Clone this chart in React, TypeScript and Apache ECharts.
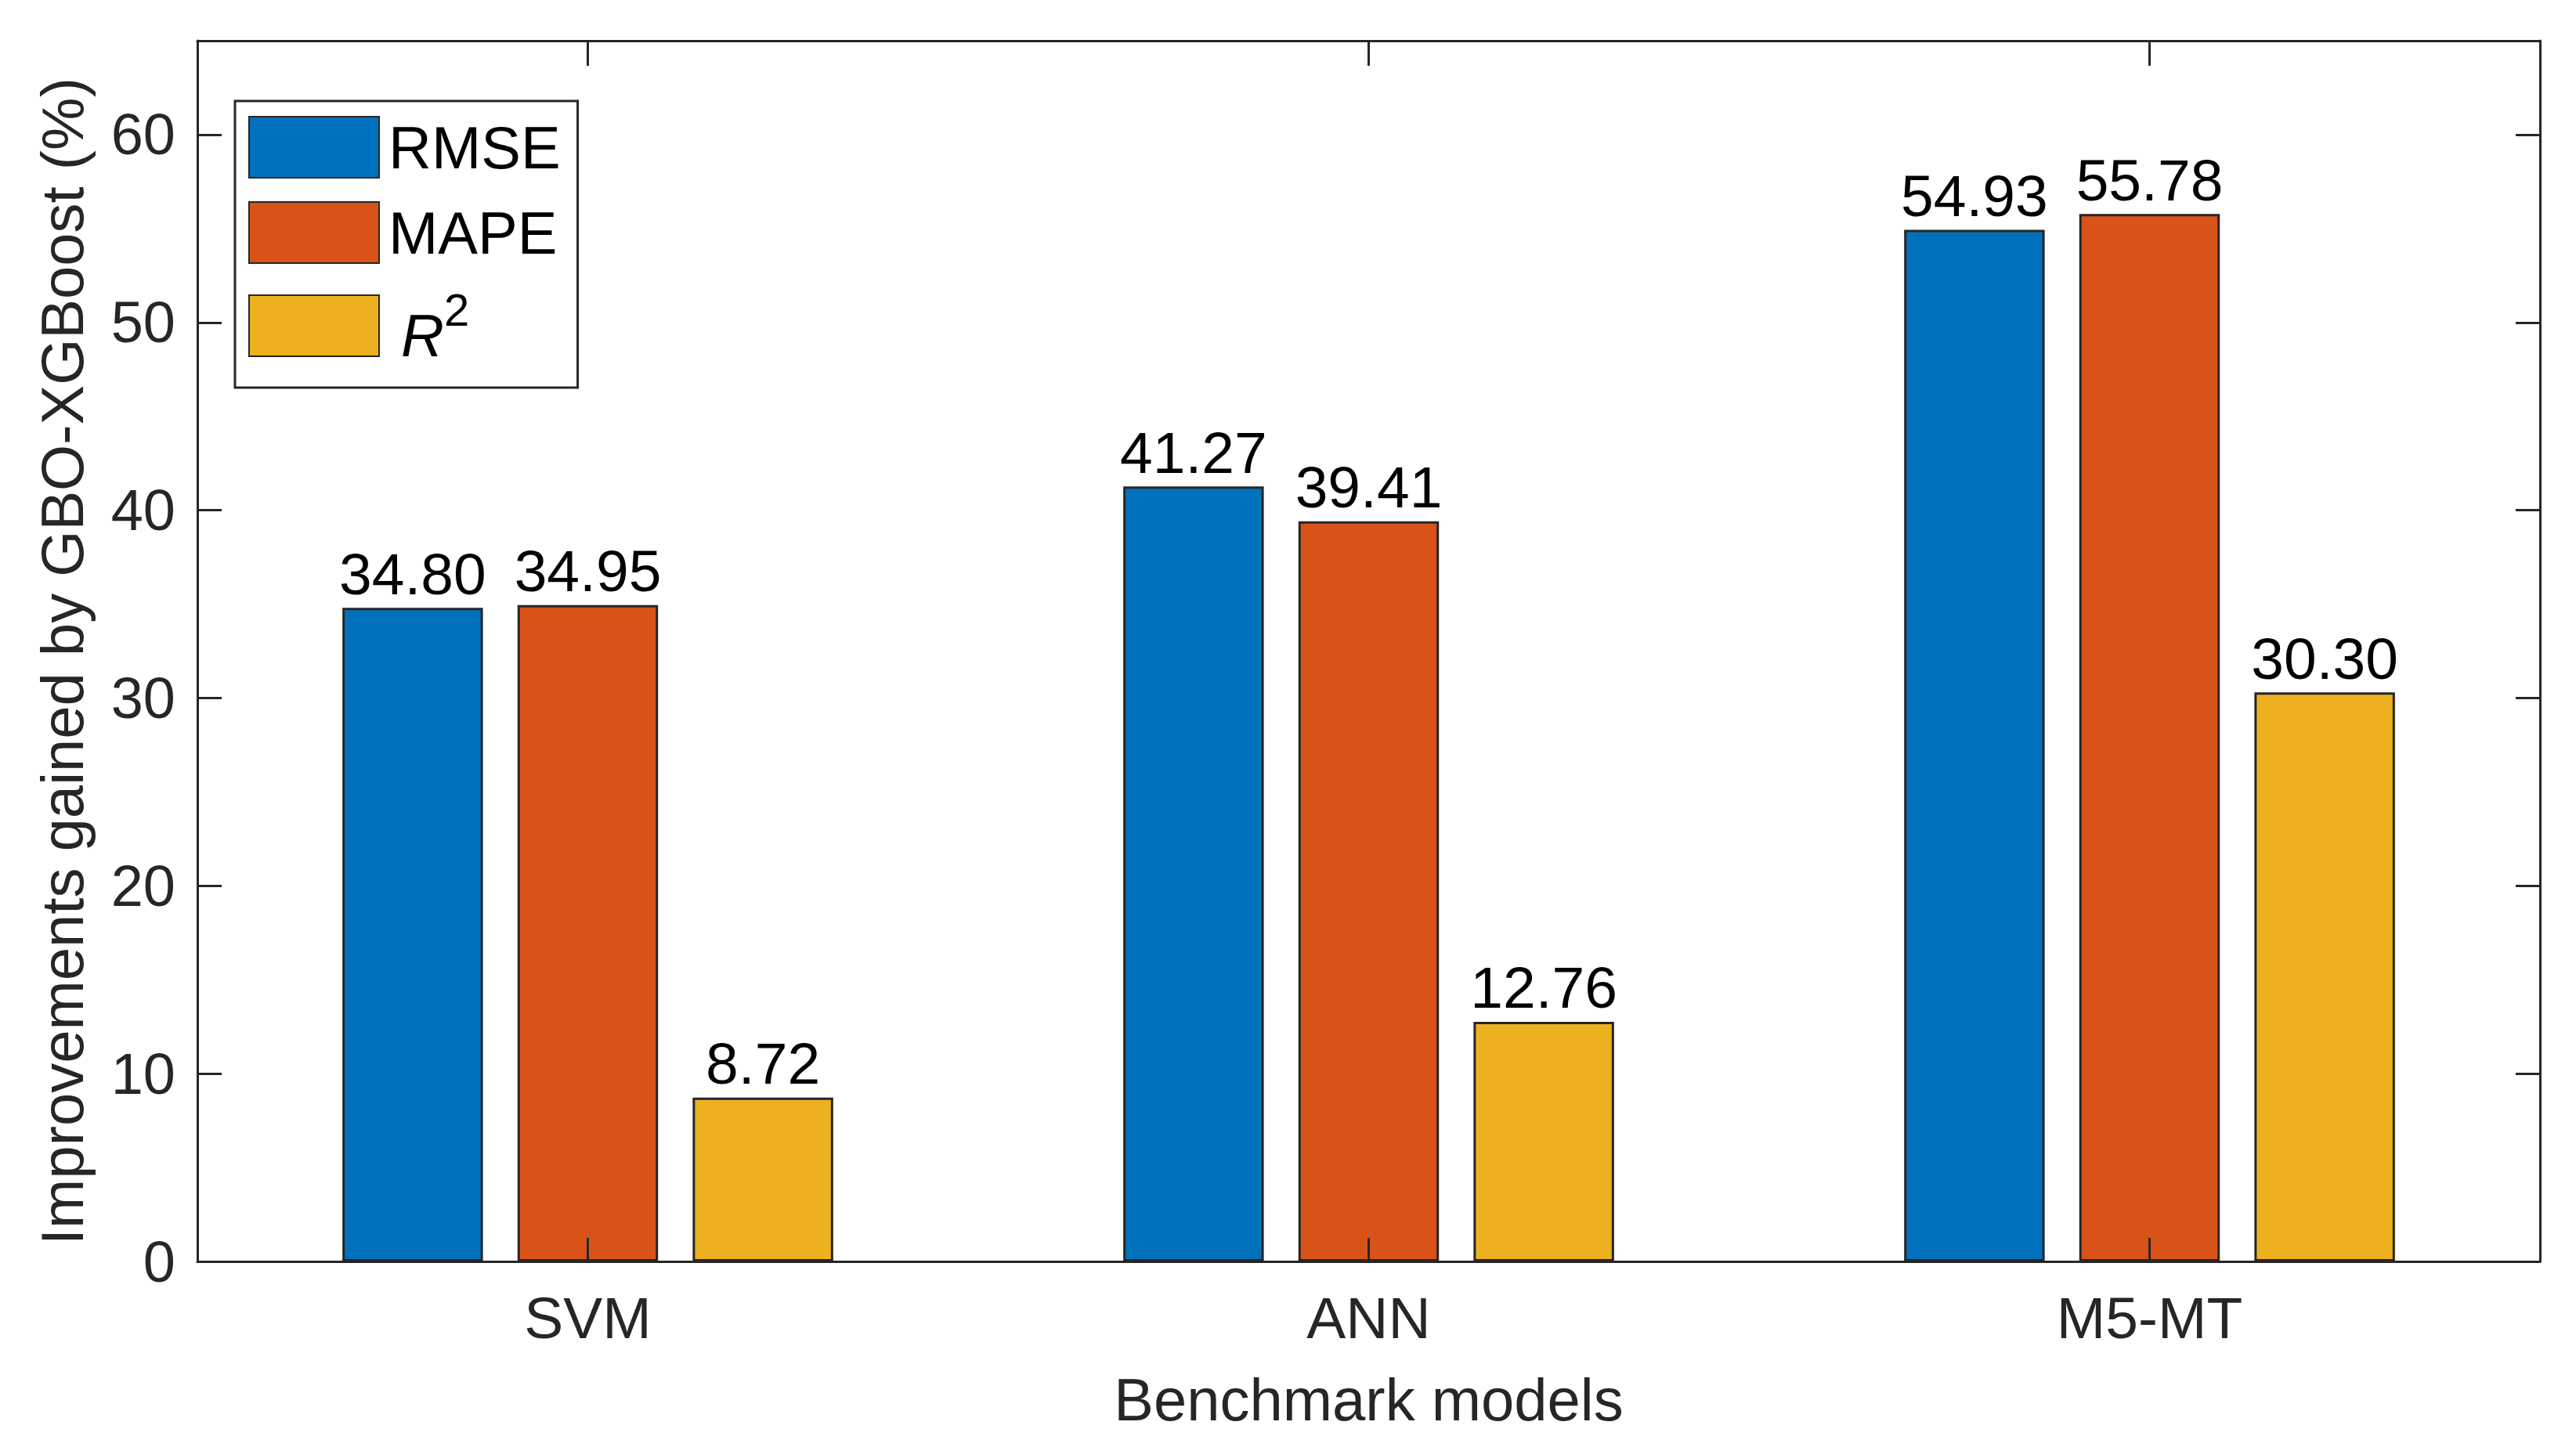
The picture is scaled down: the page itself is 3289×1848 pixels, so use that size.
import React, { useEffect, useRef } from 'react';
import * as echarts from 'echarts';

const categories = ['SVM', 'ANN', 'M5-MT'];
const seriesNames = ['RMSE', 'MAPE', 'R2'];
const rmseValues = [34.8, 41.27, 54.93];
const mapeValues = [34.95, 39.41, 55.78];
const r2Values = [8.72, 12.76, 30.3];
const seriesColors = ['#0072BD', '#D95319', '#EDB120'];
const yMin = 0;
const yMax = 65;
const yInterval = 10;
const bottomTickLength = 1.25;

export default function App() {
  const ref = useRef<HTMLDivElement>(null);
  useEffect(() => {
    const chart = echarts.init(ref.current!, null, { renderer: 'svg' });
    const font = '"Liberation Sans", Arial, Helvetica, sans-serif';
    const axisColor = '#262626';
    const values = [rmseValues, mapeValues, r2Values];
    const yCommon = {
      type: 'value',
      min: yMin,
      max: yMax,
      interval: yInterval,
      z: 20,
      splitLine: { show: false },
      axisLine: { show: true, lineStyle: { color: axisColor, width: 3 } },
      axisTick: { show: true, inside: true, length: 31, lineStyle: { color: axisColor, width: 3 } },
    };
    chart.setOption({
      animation: false,
      backgroundColor: '#ffffff',
      grid: { left: 252, right: 46, top: 52, bottom: 237 },
      legend: {
        orient: 'vertical',
        left: 300,
        top: 129,
        padding: [19, 22, 29, 17],
        itemGap: 29,
        itemWidth: 166,
        itemHeight: 78,
        borderColor: axisColor,
        borderWidth: 3,
        backgroundColor: '#ffffff',
        icon: 'rect',
        data: seriesNames,
        formatter: (n: string) => (n === 'R2' ? '{i|R}{s|2}' : n),
        textStyle: {
          fontSize: 76,
          color: '#000',
          fontFamily: font,
          padding: [0, 0, 0, 7],
          rich: {
            i: { fontSize: 76, fontStyle: 'italic', fontFamily: font, color: '#000', verticalAlign: 'bottom', padding: [0, 0, 0, 16] },
            s: { fontSize: 58, fontFamily: font, color: '#000', verticalAlign: 'bottom', padding: [0, 0, 42, 0] },
          },
        },
      },
      xAxis: [
        {
          type: 'category',
          data: categories,
          position: 'bottom',
          boundaryGap: true,
          z: 20,
          axisLine: { show: true, onZero: false, lineStyle: { color: axisColor, width: 3 } },
          axisTick: { show: false },
          axisLabel: { margin: 34, fontSize: 75, color: axisColor, fontFamily: font },
          name: 'Benchmark models',
          nameLocation: 'middle',
          nameGap: 138,
          nameTextStyle: { fontSize: 76, color: axisColor, fontFamily: font },
        },
        {
          type: 'category',
          data: categories,
          position: 'top',
          boundaryGap: true,
          z: 20,
          axisLine: { show: true, onZero: false, lineStyle: { color: axisColor, width: 3 } },
          axisTick: { show: true, inside: true, alignWithLabel: true, length: 32, lineStyle: { color: axisColor, width: 3 } },
          axisLabel: { show: false },
        },
      ],
      yAxis: [
        {
          ...yCommon,
          position: 'left',
          axisLabel: { margin: 28, fontSize: 74, color: axisColor, fontFamily: font, showMaxLabel: false },
          name: 'Improvements gained by GBO-XGBoost (%)',
          nameLocation: 'middle',
          nameGap: 135,
          nameTextStyle: { fontSize: 76, color: axisColor, fontFamily: font, padding: [0, 26, 0, 0] },
        },
        {
          ...yCommon,
          position: 'right',
          axisLabel: { show: false },
        },
      ],
      series: values.map((v, i) => ({
        type: 'bar',
        name: seriesNames[i],
        data: v,
        xAxisIndex: 0,
        yAxisIndex: 0,
        z: 1,
        barWidth: '18%',
        barGap: '24.6%',
        itemStyle: { color: seriesColors[i], borderColor: axisColor, borderWidth: 3 },
        label: {
          show: true,
          position: 'top',
          distance: 6,
          formatter: (p: any) => Number(p.value).toFixed(2),
          fontSize: 75,
          color: '#000',
          fontFamily: font,
        },
        markLine:
          i === 1
            ? {
                silent: true,
                symbol: 'none',
                z: 30,
                label: { show: false },
                lineStyle: { color: axisColor, width: 3, type: 'solid' },
                data: categories.map((c) => [
                  { coord: [c, yMin] },
                  { coord: [c, yMin + bottomTickLength] },
                ]),
              }
            : undefined,
      })),
    });
    return () => chart.dispose();
  }, []);
  return <div ref={ref} style={{ position: 'fixed', left: 0, top: 0, width: '100vw', height: '100vh' }} />;
}
